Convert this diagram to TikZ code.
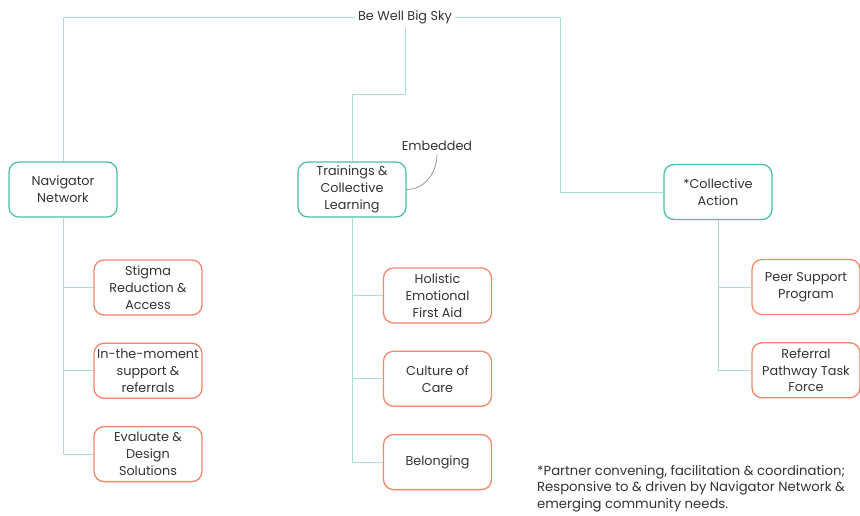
\documentclass[tikz,border=0pt]{standalone}
\usepackage{fontspec}
\setmainfont{Poppins}
\usetikzlibrary{positioning}

\definecolor{tealbox}{HTML}{4DBFA8}
\definecolor{tealline}{HTML}{A9E0D5}
\definecolor{coralbox}{HTML}{F4876A}
\definecolor{inkgray}{HTML}{333333}

\begin{document}
\begin{tikzpicture}[x=1pt, y=-1pt,
      node distance=27pt,
      font=\fontsize{12.8}{16.8}\selectfont, text=inkgray,
      hub/.style={rectangle, rounded corners=10pt, draw=tealbox, line width=1.3pt,
                  minimum width=108pt, minimum height=55pt, align=center, inner sep=1pt},
      leaf/.style={hub, draw=coralbox},
      link/.style={draw=tealline, line width=0.9pt},
      note/.style={draw=black!45, line width=0.7pt}
    ]
    \useasboundingbox (0,0) rectangle (860,516);

    \node (title) at (405,17) {Be Well Big Sky};
    \node[hub] (navnet) at (63,189.5) {Navigator\\Network};
    \node[hub] (trainings) at (352,189.5) {Trainings \&\\Collective\\Learning};
    \node[hub] (collect) at (718,192) {*Collective\\Action};
    \node (embedded) at (437,146) {Embedded};

    \node[leaf] (stigma) at (148,287.5) {Stigma\\Reduction \&\\Access};
    \node[leaf, below=of stigma] (moment) {In-the-moment\\support \&\\referrals};
    \node[leaf, below=of moment] (evaluate) {Evaluate \&\\Design\\Solutions};

    \node[leaf] (holistic) at (437.5,295.5) {Holistic\\Emotional\\First Aid};
    \node[leaf, below=of holistic] (culture) {Culture of\\Care};
    \node[leaf, below=of culture] (belonging) {Belonging};

    \node[leaf] (peer) at (806,287) {Peer Support\\Program};
    \node[leaf, below=of peer] (referral) {Referral\\Pathway Task\\Force};

    \node[anchor=north west, align=left, inner sep=0pt,
          font=\fontsize{13.2}{16.6}\selectfont] (footnote) at (537,465)
      {*Partner convening, facilitation \& coordination;\\
       Responsive to \& driven by Navigator Network \&\\
       emerging community needs.};

    % top level
    \coordinate (rturn) at (560,17);
    \draw[link] (title.west) -| (navnet.north);
    \draw[link] (title.south) -- ++(0,67) -| (trainings.north);
    \draw[link] (title.east) -- (rturn) |- (collect.west);
    \draw[note] (trainings.east) to[out=0, in=-90] (embedded.south);

    % branches
    \foreach \kid in {stigma,moment,evaluate}
      \draw[link] (navnet.south) |- (\kid.west);
    \foreach \kid in {holistic,culture,belonging}
      \draw[link] (trainings.south) |- (\kid.west);
    \foreach \kid in {peer,referral}
      \draw[link] (collect.south) |- (\kid.west);
  \end{tikzpicture}
\end{document}
